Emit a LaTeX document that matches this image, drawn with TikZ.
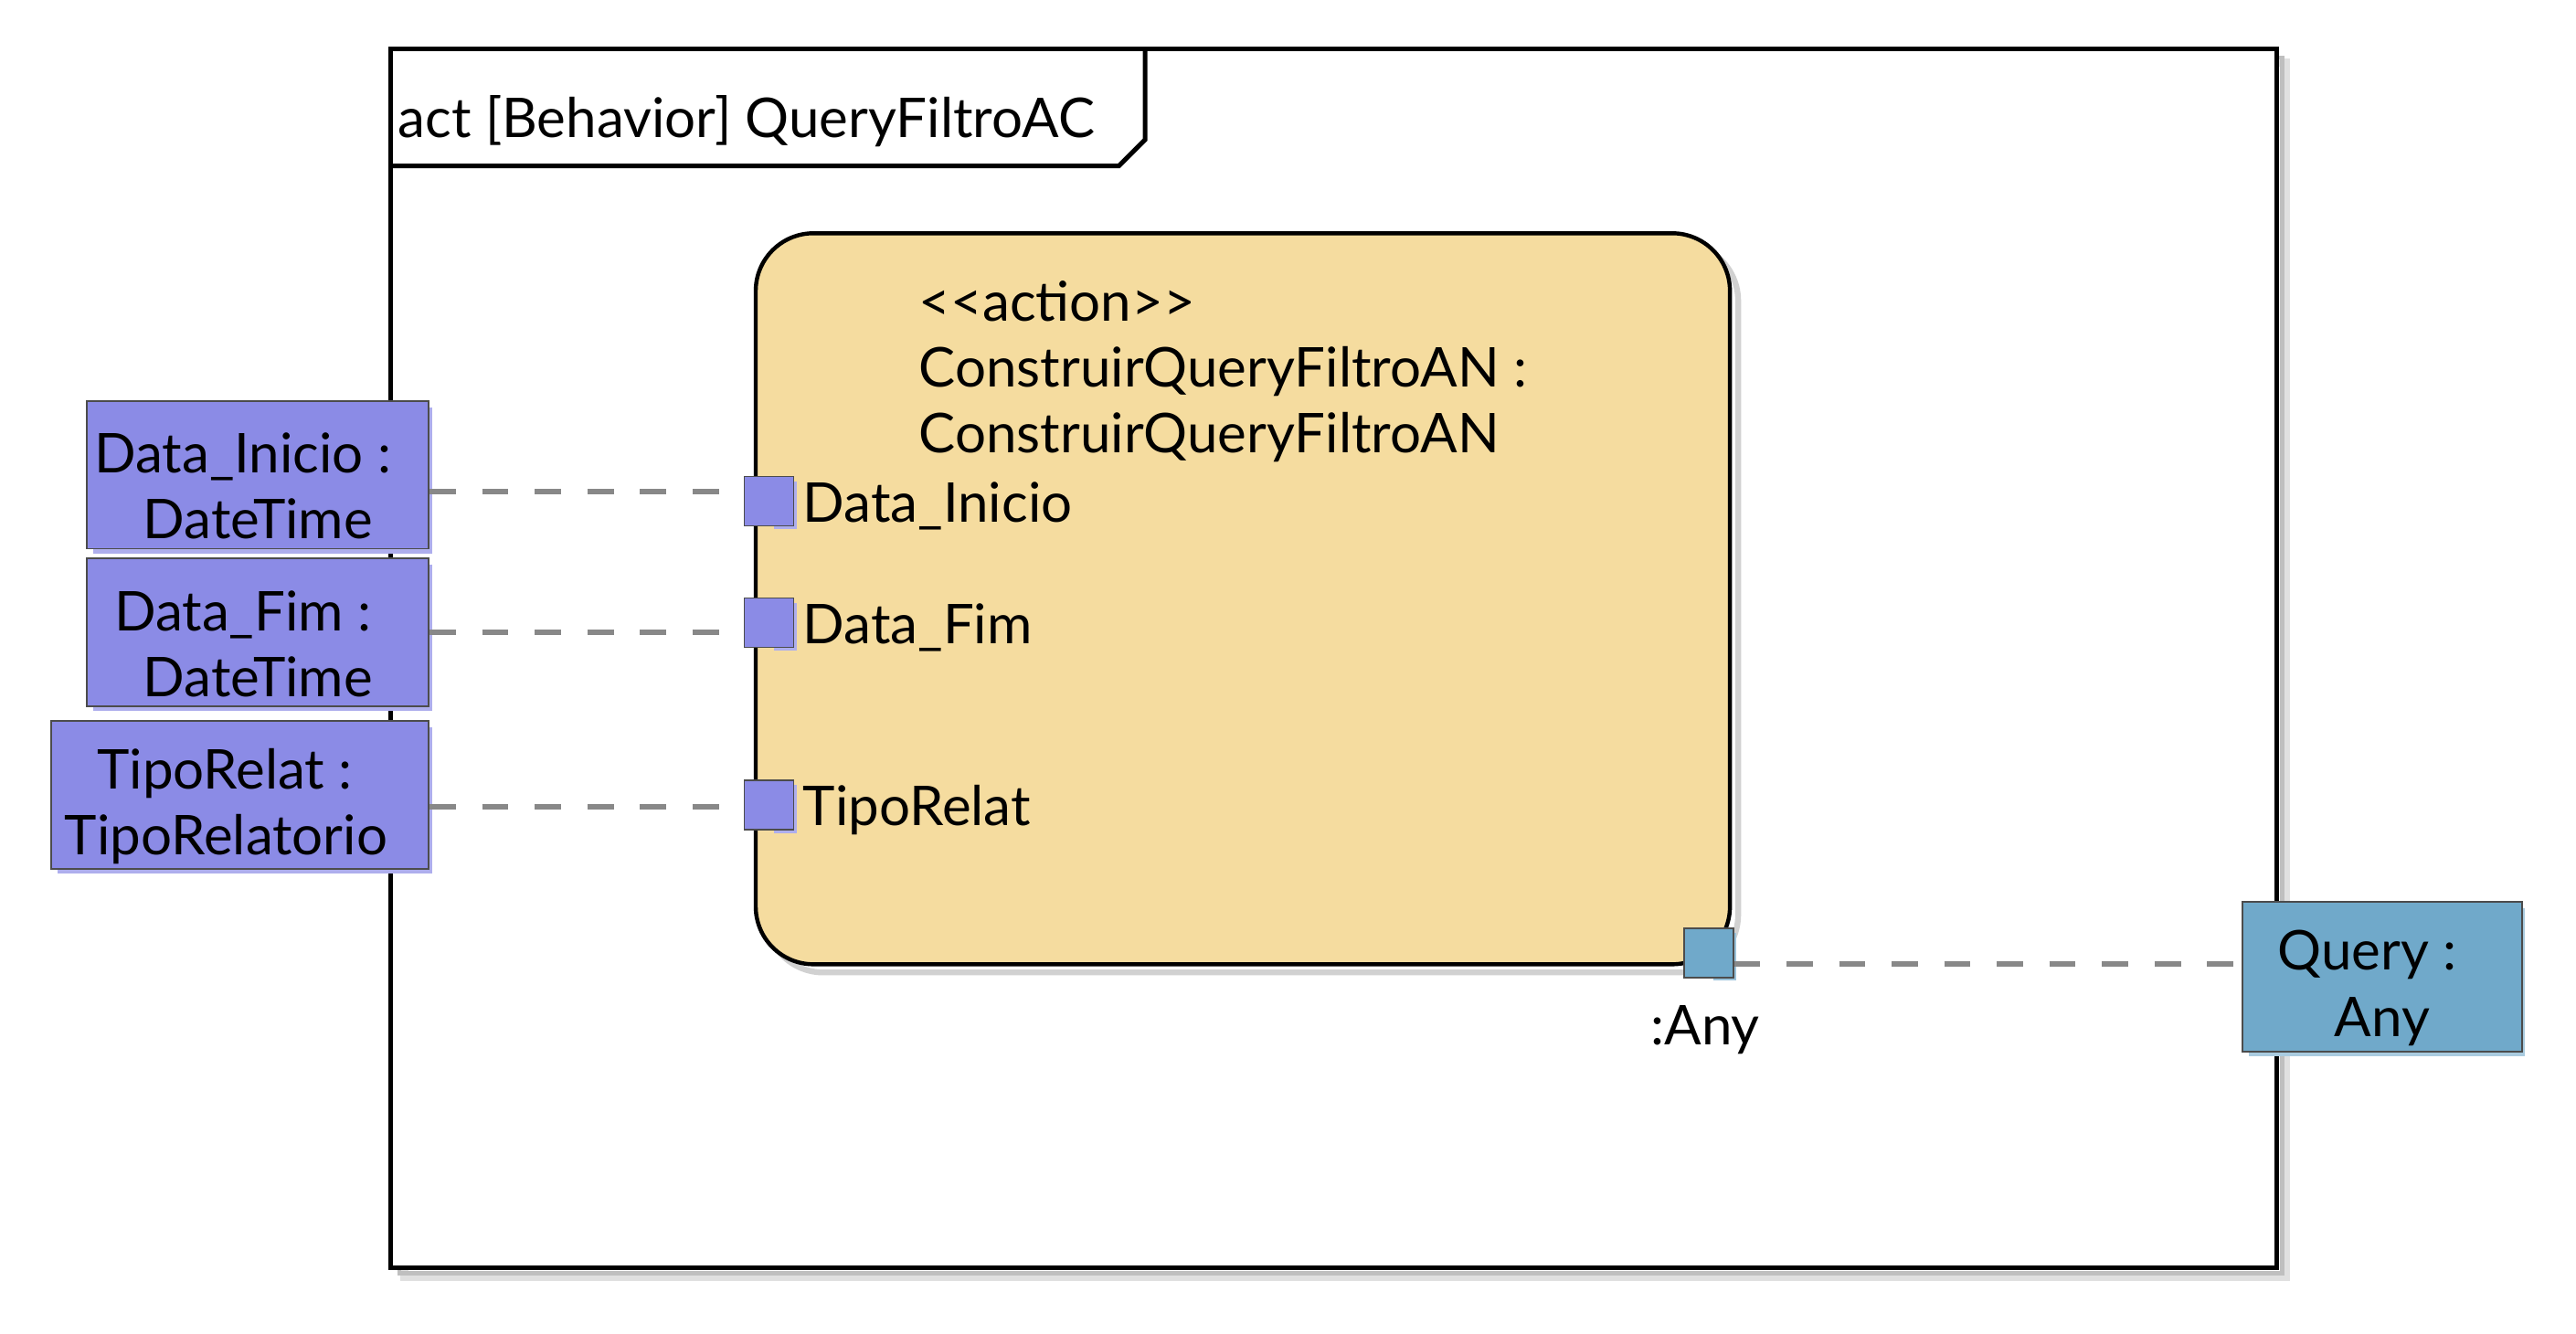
\documentclass[tikz,border=0pt]{standalone}
\usepackage{fontspec}
\setmainfont{Lato}
\usepackage{tikz}
\usetikzlibrary{positioning, calc}

\definecolor{wheatfill}{HTML}{F5DC9F}
\definecolor{pinpurple}{HTML}{8B8BE6}
\definecolor{pinblue}{HTML}{70A9CA}
\definecolor{flowgray}{HTML}{888888}

\newcommand{\trail}{\hspace*{0.55em}}

\tikzset{
  umltext/.style={font=\fontsize{19}{22.8}\selectfont},
  param/.style={draw=black!70, line width=0.6pt, inner sep=0pt,
    label={[umltext, align=center, yshift=-1.4mm]center:#1}},
  inparam/.style={param={#1}, fill=pinpurple, minimum height=18mm},
  outparam/.style={param={#1}, fill=pinblue, minimum height=18.2mm},
  pinbox/.style={draw=black!70, line width=0.5pt, minimum size=6mm, inner sep=0pt},
  flow/.style={flowgray, line width=1.9pt, dash pattern=on 3.2mm off 3.2mm}
}

\begin{document}
\begin{tikzpicture}[x=0.2mm, y=-0.2mm]
  \useasboundingbox (0,0) rectangle (1568,812);

  % Frame with shadow
  \draw[black!12, line width=3pt] (246,38) rectangle (1391,777);
  \draw[black!25, line width=1.5pt] (243,35) rectangle (1389,775);
  \draw[line width=1.6pt, fill=white] (238,30) rectangle (1386,772);
  \draw[line width=1.6pt] (238,101) -- (681,101) -- (697,85) -- (697,30);
  \node[umltext, anchor=west, inner sep=0pt] (title) at (242,74) {act [Behavior] QueryFiltroAC};

  % Action
  \draw[black!18, line width=2pt, rounded corners=20] (466,148) rectangle (1058,592);
  \node[draw, line width=1.4pt, fill=wheatfill, rounded corners=20, minimum width=118.6mm,
        minimum height=89mm, inner sep=0pt] (actbox) at (756.5,364.5) {};
  \node[umltext, anchor=west, align=left, inner sep=0pt] (actlbl) at (559,226)
    {<{}<action>{}>\\ConstruirQueryFiltroAN :\\ConstruirQueryFiltroAN};

  % Pins
  \foreach \n/\y/\t in {pDI/305/Data\_Inicio, pDF/379/Data\_Fim, pTR/490/TipoRelat} {
    \fill[pinpurple!70] (471,\y-12) rectangle (485,\y+17);
    \node[pinbox, fill=pinpurple] (\n) at (468,\y) {};
    \node[umltext, anchor=west, inner sep=0pt] at ([xshift=1mm, yshift=-0.6mm]\n.east) {\t};
  }
  \fill[pinblue!70] (1043,568) rectangle (1057,597);
  \node[pinbox, fill=pinblue] (pOut) at (1040,580) {};
  \node[umltext, inner sep=0pt] (anylbl) at (1038,627) {:Any};

  % Parameters
  \fill[pinpurple!70] (57,248) rectangle (263,337);
  \fill[pinpurple!70] (57,344) rectangle (263,433);
  \fill[pinpurple!70] (35,443) rectangle (263,532);
  \fill[pinblue!60] (1369,553) rectangle (1537,643);
  \node[inparam={Data\_Inicio :\trail\\DateTime}, minimum width=41.6mm] (DI) at (157,289) {};
  \node[inparam={Data\_Fim :\trail\\DateTime}, minimum width=41.6mm] (DF) at (157,385) {};
  \node[inparam={TipoRelat :\trail\\TipoRelatorio\hspace*{0.5em}}, minimum width=46mm] (TR) at (146,484) {};
  \node[outparam={Query :\trail\\Any}, minimum width=34mm] (Q) at (1450,594.5) {};

  % Object flows
  \draw[flow] (DI.east |- 0,299) -- (pDI.west |- 0,299);
  \draw[flow] (DF.east |- 0,385) -- (pDF.west |- 0,385);
  \draw[flow] (TR.east |- 0,491) -- (pTR.west |- 0,491);
  \draw[flow] (pOut.east |- 0,587) -- (Q.west |- 0,587);
\end{tikzpicture}
\end{document}
